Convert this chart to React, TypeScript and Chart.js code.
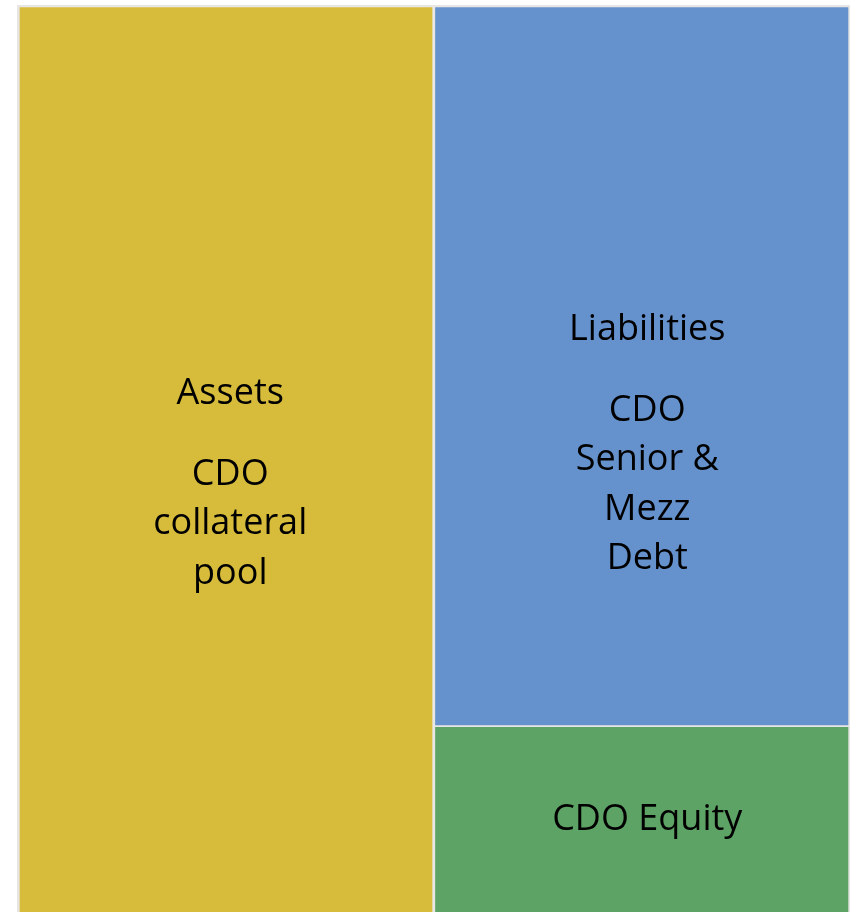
import React, { useEffect, useRef } from "react";
import { Chart, registerables } from "chart.js";

Chart.register(...registerables);

const categories = ["Assets", "Liabilities"];
const collateralPool = [100, null];
const equity = [null, 20.5];
const seniorMezzDebt = [null, 79.5];

const labelTitles = ["Assets", "Liabilities", ""];
const labelLines = [
  ["CDO", "collateral", "pool"],
  ["CDO", "Senior &", "Mezz", "Debt"],
  ["CDO Equity"],
];

const BORDER = "#e7e6e4";

const labelPlugin = {
  id: "blockLabels",
  afterDatasetsDraw(chart: any, _args: any, opts: any) {
    const ctx = chart.ctx;
    ctx.save();
    ctx.font = opts.font;
    ctx.fillStyle = "#000";
    ctx.textAlign = "center";
    ctx.textBaseline = "alphabetic";
    (opts.items || []).forEach((it: any) => {
      const meta = chart.getDatasetMeta(it.datasetIndex);
      const el: any = meta.data[it.index];
      if (!el) return;
      const cx = el.x + it.dx;
      const cy = (el.y + el.base) / 2 + it.dy;
      const rows: { text: string; gap: number }[] = [];
      if (it.title) rows.push({ text: it.title, gap: 0 });
      it.lines.forEach((l: string, i: number) =>
        rows.push({ text: l, gap: rows.length === 0 ? 0 : i === 0 ? opts.paraGap : opts.lineGap })
      );
      let total = 0;
      rows.forEach((r) => (total += r.gap));
      let y = cy - total / 2;
      rows.forEach((r) => {
        y += r.gap;
        ctx.fillText(r.text, cx, y);
      });
    });
    ctx.restore();
  },
};

export default function App() {
  const ref = useRef<HTMLCanvasElement>(null);
  useEffect(() => {
    if (!ref.current) return;
    const chart = new Chart(ref.current, {
      type: "bar",
      data: {
        labels: categories,
        datasets: [
          {
            label: "CDO collateral pool",
            data: collateralPool as any,
            backgroundColor: "#D7BC3B",
            borderColor: BORDER,
            borderWidth: { left: 3, top: 2.5, right: 1.5, bottom: 0 } as any,
            borderSkipped: false,
          },
          {
            label: "CDO Equity",
            data: equity as any,
            backgroundColor: "#5EA366",
            borderColor: BORDER,
            borderWidth: { left: 2, top: 1.3, right: 2, bottom: 0 } as any,
            borderSkipped: false,
          },
          {
            label: "CDO Senior & Mezz Debt",
            data: seniorMezzDebt as any,
            backgroundColor: "#6592CC",
            borderColor: BORDER,
            borderWidth: { left: 2, top: 2.5, right: 2, bottom: 1.2 } as any,
            borderSkipped: false,
          },
        ],
      },
      options: {
        animation: false,
        responsive: false,
        devicePixelRatio: 1,
        layout: { padding: { left: 17, top: 5, right: 0, bottom: 0 } },
        datasets: { bar: { categoryPercentage: 1, barPercentage: 1 } } as any,
        scales: {
          x: { display: false, stacked: true },
          y: { display: false, stacked: true, min: 0, max: 100 },
        },
        plugins: {
          legend: { display: false },
          tooltip: { enabled: false },
          blockLabels: {
            font: '36px "Open Sans"',
            lineGap: 49.5,
            paraGap: 81,
            items: [
              { datasetIndex: 0, index: 0, title: labelTitles[0], lines: labelLines[0], dx: 5, dy: 35 },
              { datasetIndex: 2, index: 1, title: labelTitles[1], lines: labelLines[1], dx: 5.5, dy: 89 },
              { datasetIndex: 1, index: 1, title: labelTitles[2], lines: labelLines[2], dx: 5.5, dy: 11 },
            ],
          },
        } as any,
      },
      plugins: [labelPlugin],
    });
    return () => chart.destroy();
  }, []);
  return (
    <canvas
      ref={ref}
      width={850}
      height={912}
      style={{ position: "absolute", left: 0, top: 0, width: 850, height: 912, display: "block" }}
    />
  );
}
